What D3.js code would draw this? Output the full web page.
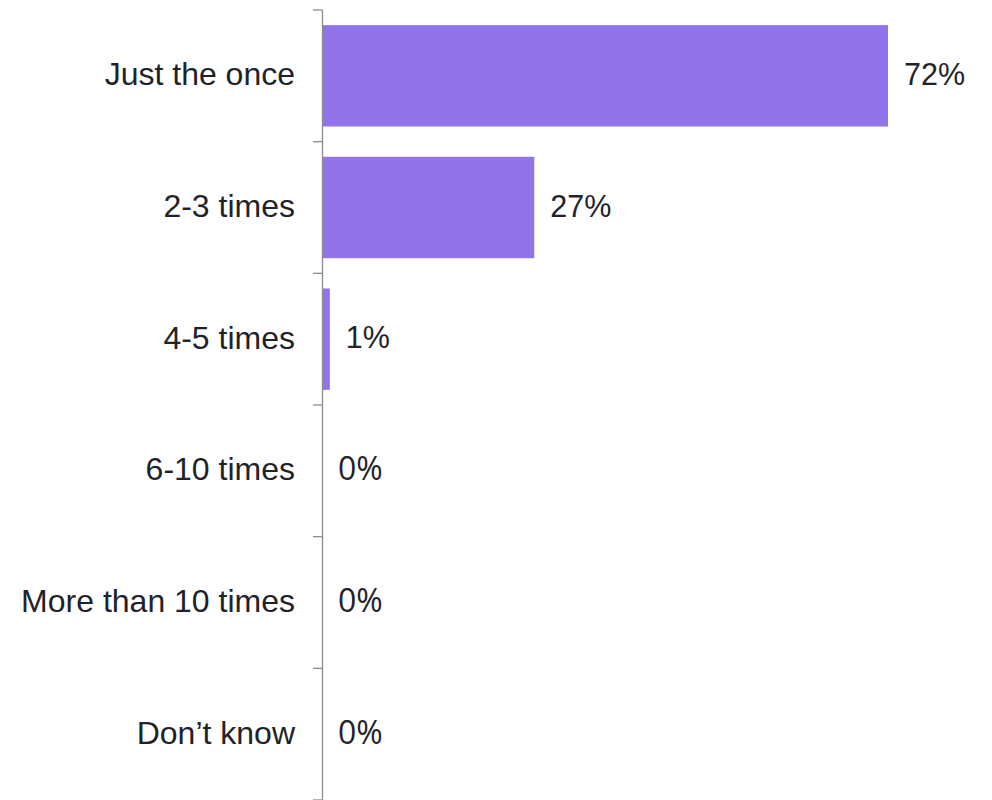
<!DOCTYPE html>
<html>
<head>
<meta charset="utf-8">
<script src="https://cdn.jsdelivr.net/npm/d3@7"></script>
<style>
  html, body { margin: 0; padding: 0; background: #fff; }
  svg { display: block; }
</style>
</head>
<body>
<div id="chart"></div>
<script>
// How often it happened — share of respondents
const categories = ["Just the once", "2-3 times", "4-5 times", "6-10 times", "More than 10 times", "Don\u2019t know"];
const values = [72, 27, 1, 0, 0, 0];
const valueLabels = ["72%", "27%", "1%", "0%", "0%", "0%"];

const width = 992, height = 800;
const margin = { top: 10, right: 104, bottom: 0, left: 322 };
const innerW = width - margin.left - margin.right;
const innerH = height - margin.top - margin.bottom;

const svg = d3.select("#chart").append("svg")
  .attr("width", width)
  .attr("height", height);

const g = svg.append("g").attr("transform", `translate(${margin.left},${margin.top})`);

const x = d3.scaleLinear().domain([0, 72]).range([0, 566]);
const y = d3.scaleBand().domain(categories).range([0, innerH])
  .paddingInner(0.23).paddingOuter(0.115);

const barColor = "#9173ea";
const textColor = "#1f2329";
const axisColor = "#8c8c8c";
const fontFamily = "'Liberation Sans', Arial, sans-serif";

// bars
g.selectAll("rect.bar").data(categories).join("rect")
  .attr("class", "bar")
  .attr("x", x(0))
  .attr("y", d => y(d))
  .attr("width", (d, i) => x(values[i]) - x(0))
  .attr("height", y.bandwidth())
  .attr("fill", barColor);

// value labels
g.selectAll("text.val").data(categories).join("text")
  .attr("class", "val")
  .attr("x", (d, i) => x(values[i]) + 16)
  .attr("y", d => y(d) + y.bandwidth() / 2)
  .attr("dy", "0.3em")
  .attr("fill", textColor)
  .style("font-family", (d, i) => values[i] === 0 ? "'Open Sans', sans-serif" : fontFamily)
  .style("font-size", (d, i) => values[i] === 0 ? "32px" : "30.5px")
  .text((d, i) => valueLabels[i]);

// category axis: line, boundary ticks and labels
const step = y.step();
const boundaries = d3.range(categories.length + 1).map(i => i * step);

g.append("line")
  .attr("x1", 0.5).attr("x2", 0.5)
  .attr("y1", 0).attr("y2", innerH)
  .attr("stroke", axisColor).attr("stroke-width", 1.3);

g.selectAll("line.tick").data(boundaries).join("line")
  .attr("class", "tick")
  .attr("x1", -9).attr("x2", 0.5)
  .attr("y1", d => d).attr("y2", d => d)
  .attr("stroke", axisColor).attr("stroke-width", 1.3);

g.selectAll("text.cat").data(categories).join("text")
  .attr("class", "cat")
  .attr("x", -27)
  .attr("y", d => y(d) + y.bandwidth() / 2)
  .attr("dy", "0.3em")
  .attr("text-anchor", "end")
  .attr("fill", textColor)
  .style("font-family", fontFamily)
  .style("font-size", "32px")
  .text(d => d);
</script>
</body>
</html>
